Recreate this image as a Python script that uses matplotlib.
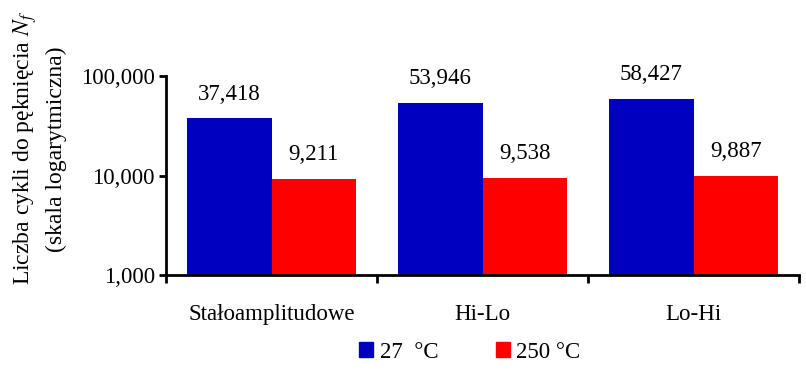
import numpy as np
import matplotlib.pyplot as plt
from matplotlib.patches import Patch
from matplotlib.ticker import FuncFormatter, FixedLocator

plt.rcParams['font.family'] = ['Liberation Serif', 'DejaVu Serif']
plt.rcParams['mathtext.fontset'] = 'stix'

# data
categories = ['Stałoamplitudowe', 'Hi-Lo', 'Lo-Hi']
cycles_27 = [37418, 53946, 58427]
cycles_250 = [9211, 9538, 9887]
series_names = ['27  °C', '250 °C']
y_ticks = [1000, 10000, 100000]

blue = '#0000C0'
red = '#FF0000'
fs = 16.5

fig = plt.figure(figsize=(8.06, 3.70), dpi=100)
ax = fig.add_axes([166 / 806, 1 - 275 / 370, (799 - 166) / 806, (275 - 76) / 370])

x = np.arange(len(categories))
w = 0.4
b1 = ax.bar(x - w / 2, cycles_27, w, color=blue)
b2 = ax.bar(x + w / 2, cycles_250, w, color=red)

for bars, vals in ((b1, cycles_27), (b2, cycles_250)):
    for rect, v in zip(bars, vals):
        ax.annotate(f'{v:,}', (rect.get_x() + rect.get_width() / 2, v),
                    xytext=(0, 10), textcoords='offset points',
                    ha='center', va='bottom', fontsize=fs, annotation_clip=False)

ax.set_yscale('log')
ax.set_ylim(1000, 100000)
ax.yaxis.set_major_locator(FixedLocator(y_ticks))
ax.yaxis.set_minor_locator(FixedLocator([]))
ax.yaxis.set_major_formatter(FuncFormatter(lambda v, p: f'{int(v):,}'))

ax.set_xlim(-0.5, len(categories) - 0.5)
ax.set_xticks(np.arange(len(categories) + 1) - 0.5)
ax.set_xticklabels([])
ax.set_xticks(x, minor=True)
ax.set_xticklabels(categories, minor=True, fontsize=fs)
ax.tick_params(axis='x', which='minor', length=0, pad=21)
ax.tick_params(axis='x', which='major', length=6, width=2)
ax.tick_params(axis='y', which='major', length=5, width=2, labelsize=fs, pad=3)

for s in ('top', 'right'):
    ax.spines[s].set_visible(False)
for s in ('left', 'bottom'):
    ax.spines[s].set_linewidth(2)

fig.text(25 / 806, 1 - 148 / 370, 'Liczba cykli do pęknięcia $N_f$',
         rotation=90, ha='center', va='center', fontsize=17)
fig.text(56 / 806, 1 - 149 / 370, '(skala logarytmiczna)',
         rotation=90, ha='center', va='center', fontsize=17)

handles = [Patch(color=blue), Patch(color=red)]
fig.legend(handles, series_names, loc='center', bbox_to_anchor=(470 / 806, 1 - 352 / 370),
           ncol=2, frameon=False, fontsize=fs, handlelength=0.6, handleheight=0.6,
           handletextpad=0.3, columnspacing=2.5)

fig.savefig('out.png', dpi=100)
